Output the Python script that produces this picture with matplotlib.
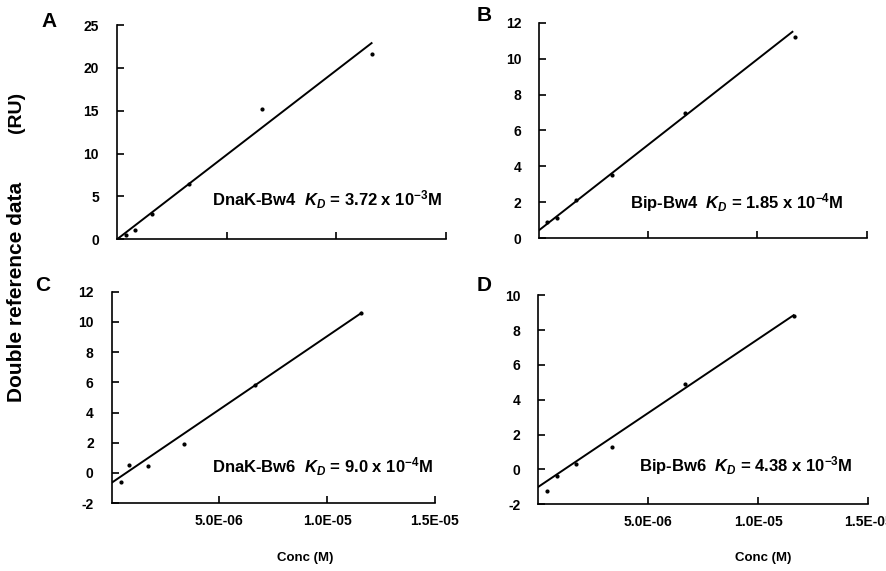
import numpy as np
import matplotlib.pyplot as plt
from matplotlib.ticker import FixedLocator, NullFormatter

plt.rcParams['font.family'] = ['Liberation Sans', 'DejaVu Sans']
plt.rcParams['font.weight'] = 'bold'
plt.rcParams['axes.unicode_minus'] = False
plt.rcParams['mathtext.fontset'] = 'custom'
plt.rcParams['mathtext.it'] = 'Liberation Sans:italic:bold'
plt.rcParams['mathtext.rm'] = 'Liberation Sans:bold'

# data (conc in M, response in RU)
conc_a = [0.4e-6, 0.8e-6, 1.6e-6, 3.3e-6, 6.6e-6, 11.6e-6]
resp_a = [0.5, 1.05, 3.0, 6.4, 15.2, 21.6]
fit_a = [0.0, 22.9]

conc_b = [0.37e-6, 0.82e-6, 1.7e-6, 3.35e-6, 6.67e-6, 11.7e-6]
resp_b = [0.9, 1.1, 2.1, 3.5, 7.0, 11.2]
fit_b = [0.45, 11.5]

conc_c = [0.42e-6, 0.8e-6, 1.67e-6, 3.35e-6, 6.65e-6, 11.6e-6]
resp_c = [-0.6, 0.55, 0.45, 1.9, 5.8, 10.6]
fit_c = [-0.65, 10.6]

conc_d = [0.4e-6, 0.83e-6, 1.7e-6, 3.35e-6, 6.67e-6, 11.6e-6]
resp_d = [-1.26, -0.4, 0.3, 1.3, 4.9, 8.8]
fit_d = [-1.0, 8.85]

fit_x = [0.0, 11.6e-6]

labels = ['A', 'B', 'C', 'D']
names = ['DnaK-Bw4  $K_D$ = 3.72 x 10$^{-3}$M',
         'Bip-Bw4  $K_D$ = 1.85 x 10$^{-4}$M',
         'DnaK-Bw6  $K_D$ = 9.0 x 10$^{-4}$M',
         'Bip-Bw6  $K_D$ = 4.38 x 10$^{-3}$M']
ylims = [(0, 25), (0, 12), (-2, 12), (-2, 10)]
yticks = [[0, 5, 10, 15, 20, 25], [0, 2, 4, 6, 8, 10, 12],
          [-2, 0, 2, 4, 6, 8, 10, 12], [-2, 0, 2, 4, 6, 8, 10]]
xticks = [5e-6, 1e-5, 1.5e-5]
xticklabels = ['5.0E-06', '1.0E-05', '1.5E-05']

concs = [conc_a, conc_b, conc_c, conc_d]
resps = [resp_a, resp_b, resp_c, resp_d]
fits = [fit_a, fit_b, fit_c, fit_d]

# axes boxes [left, bottom, width, height] in figure fraction
boxes = [[0.132, 0.581, 0.371, 0.375],
         [0.608, 0.583, 0.369, 0.377],
         [0.126, 0.119, 0.364, 0.370],
         [0.607, 0.117, 0.372, 0.366]]
text_pos = [(0.289, 0.187), (0.277, 0.167), (0.31, 0.17), (0.306, 0.187)]
letter_pos = [(0.047, 0.962), (0.537, 0.972), (0.040, 0.500), (0.537, 0.500)]
xlabel_pos = [None, None, 0.60, 0.68]

fig = plt.figure(figsize=(8.87, 5.71), dpi=100)

for i in range(4):
    ax = fig.add_axes(boxes[i])
    ax.plot(fit_x, fits[i], color='black', lw=1.4)
    ax.plot(concs[i], resps[i], 'o', color='black', ms=2.0)
    ax.set_xlim(0, 1.5e-5)
    ax.set_ylim(*ylims[i])
    ax.spines['top'].set_visible(False)
    ax.spines['right'].set_visible(False)
    ax.spines['left'].set_linewidth(1.2)
    ax.spines['bottom'].set_linewidth(1.2)
    ax.xaxis.set_major_locator(FixedLocator(xticks))
    ax.set_yticks(yticks[i])
    ax.tick_params(direction='in', length=5, width=1.2, labelsize=10)
    ax.tick_params(axis='y', pad=13)
    if i >= 2:
        ax.set_xticklabels(xticklabels, fontsize=10, fontweight='bold')
        ax.tick_params(axis='x', pad=8)
        ax.set_xlabel('Conc (M)', fontsize=9.5, fontweight='bold')
        ax.xaxis.set_label_coords(xlabel_pos[i], -0.23)
    else:
        ax.xaxis.set_major_formatter(NullFormatter())
    for t in ax.get_yticklabels():
        t.set_fontweight('bold')
    ax.text(text_pos[i][0], text_pos[i][1], names[i], transform=ax.transAxes,
            fontsize=12, fontweight='bold', va='center')
    fig.text(letter_pos[i][0], letter_pos[i][1], labels[i], fontsize=15,
             fontweight='bold', ha='left', va='center')

fig.text(0.019, 1 - 292 / 571, 'Double reference data', rotation=90,
         fontsize=15, fontweight='bold', ha='center', va='center')
fig.text(0.019, 1 - 112 / 571, '(RU)', rotation=90,
         fontsize=14, fontweight='bold', ha='center', va='center')

plt.savefig('out.png', dpi=100)
